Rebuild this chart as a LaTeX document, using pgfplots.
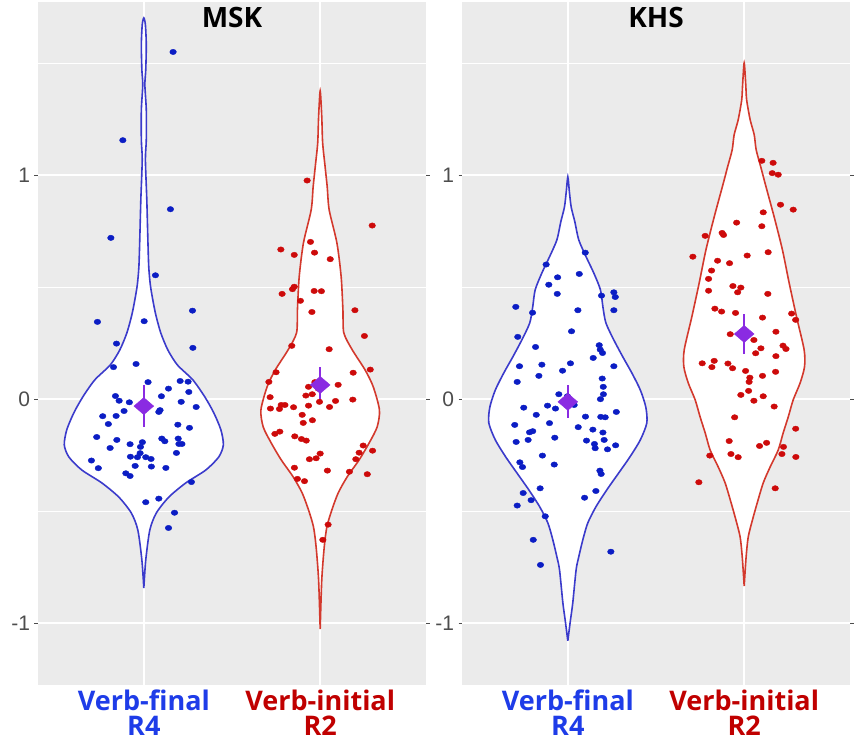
\documentclass[border=0pt]{standalone}
\usepackage{pgfplots}
\pgfplotsset{compat=1.18}
\usepackage{fontspec}
\setmainfont{Liberation Sans}
\newfontfamily\lf{Open Sans}
\definecolor{bg}{HTML}{EBEBEB}
\definecolor{dblue}{HTML}{0B1DC4}
\definecolor{vblue}{HTML}{3B3BCB}
\definecolor{dred}{HTML}{CD0A0A}
\definecolor{vred}{HTML}{D3392D}
\definecolor{lblue}{HTML}{1E3CE8}
\definecolor{lred}{HTML}{C00000}
\definecolor{purp}{HTML}{8A2BE2}
\definecolor{tickgray}{HTML}{4D4D4D}

\pgfplotstableread{
x y
0.845 0.247
1.278 0.228
0.828 0.142
0.956 0.156
1.024 0.075
1.206 0.080
1.251 0.077
1.140 0.046
1.255 0.031
0.839 0.013
0.860 -0.008
0.918 -0.015
1.100 0.012
1.212 -0.013
1.297 -0.036
0.888 -0.054
1.092 -0.050
1.085 -0.058
0.767 -0.077
0.843 -0.076
0.799 -0.112
1.193 -0.115
1.259 -0.129
0.733 -0.170
0.847 -0.183
0.922 -0.202
0.992 -0.193
1.102 -0.177
1.119 -0.189
1.195 -0.177
1.199 -0.201
1.216 -0.201
0.809 -0.219
0.981 -0.214
1.185 -0.241
0.979 -0.242
0.924 -0.258
0.964 -0.260
1.011 -0.260
1.041 -0.268
0.703 -0.275
0.742 -0.309
0.951 -0.299
1.043 -0.302
1.125 -0.308
0.898 -0.332
0.922 -0.344
1.270 -0.371
1.011 -0.461
1.085 -0.445
1.174 -0.508
1.140 -0.576
1.166 1.549
0.881 1.155
1.151 0.847
0.813 0.719
1.066 0.552
1.276 0.394
0.737 0.344
1.002 0.347
}\mskfinal

\pgfplotstableread{
x y
2.295 0.774
1.945 0.701
1.777 0.667
1.853 0.643
1.968 0.653
2.057 0.624
1.853 0.501
1.843 0.490
1.784 0.469
1.966 0.482
2.007 0.481
1.888 0.438
1.953 0.388
2.197 0.396
2.251 0.281
1.839 0.237
2.051 0.222
1.750 0.119
2.284 0.131
2.187 0.117
1.709 0.076
1.934 0.054
1.970 0.075
1.989 0.046
2.102 0.063
1.716 0.008
1.919 0.015
1.955 0.021
2.185 -0.003
1.996 -0.013
2.087 -0.009
1.779 -0.027
1.800 -0.027
1.718 -0.043
1.769 -0.045
1.849 -0.037
1.934 -0.030
2.053 -0.036
1.898 -0.071
1.904 -0.107
1.956 -0.095
1.743 -0.156
1.771 -0.146
1.856 -0.167
1.894 -0.179
1.921 -0.186
2.244 -0.208
2.221 -0.240
2.297 -0.231
2.000 -0.244
1.939 -0.269
1.977 -0.265
2.202 -0.269
1.854 -0.307
2.041 -0.320
2.166 -0.325
2.267 -0.336
1.871 -0.357
1.911 -0.367
2.045 -0.561
2.015 -0.629
1.926 0.975
}\mskinitial

\pgfplotstableread{
x y
1.099 0.653
0.877 0.600
0.942 0.543
1.065 0.558
0.892 0.510
0.940 0.469
1.191 0.461
1.261 0.476
1.269 0.455
0.705 0.411
0.800 0.385
1.057 0.396
1.261 0.396
1.021 0.302
0.716 0.277
0.817 0.232
1.178 0.240
1.184 0.220
1.197 0.205
1.144 0.183
0.726 0.146
0.853 0.153
1.015 0.159
0.970 0.126
1.261 0.146
0.836 0.103
0.713 0.076
1.195 0.091
1.201 0.054
1.202 0.021
0.949 0.021
0.998 0.012
1.185 -0.001
0.885 -0.030
0.930 -0.043
1.036 -0.027
0.750 -0.039
1.275 -0.058
0.821 -0.071
1.100 -0.079
1.187 -0.080
1.212 -0.082
0.699 -0.116
0.896 -0.108
1.059 -0.126
1.142 -0.137
0.783 -0.149
0.801 -0.144
1.199 -0.150
0.707 -0.192
0.775 -0.183
0.926 -0.173
1.106 -0.186
1.151 -0.201
1.155 -0.220
1.206 -0.183
1.225 -0.225
1.271 -0.207
0.856 -0.253
0.728 -0.283
0.743 -0.304
0.923 -0.293
1.182 -0.320
1.189 -0.335
0.843 -0.399
0.747 -0.420
0.792 -0.452
0.713 -0.476
1.095 -0.441
1.159 -0.411
0.872 -0.524
0.804 -0.629
1.244 -0.682
0.845 -0.741
}\khsfinal

\pgfplotstableread{
x y
2.100 1.063
2.164 1.054
2.159 1.008
2.193 1.001
2.206 0.867
2.278 0.845
2.108 0.833
1.957 0.787
2.100 0.771
1.779 0.728
1.875 0.741
1.883 0.732
1.709 0.635
2.017 0.640
2.136 0.655
1.849 0.617
1.917 0.606
1.815 0.573
1.798 0.536
1.798 0.483
1.936 0.504
1.981 0.497
1.963 0.476
2.134 0.469
1.834 0.403
1.872 0.390
1.951 0.384
2.104 0.363
2.269 0.381
2.292 0.353
2.180 0.300
1.921 0.289
2.055 0.263
2.095 0.226
2.065 0.204
2.220 0.238
2.237 0.223
2.180 0.191
1.762 0.159
1.830 0.170
1.817 0.142
1.908 0.158
1.934 0.137
2.008 0.125
2.178 0.121
2.032 0.095
2.028 0.076
2.104 0.103
1.981 0.018
2.025 0.036
2.055 -0.008
2.108 0.012
2.170 -0.034
1.946 -0.082
2.292 -0.133
1.915 -0.188
2.087 -0.210
2.127 -0.196
2.223 -0.214
2.214 -0.246
2.293 -0.259
1.805 -0.253
1.925 -0.246
1.966 -0.260
1.743 -0.372
2.176 -0.399
}\khsinitial

\pgfplotsset{
  vpanel/.style={
    scale only axis, width=388pt, height=683pt,
    xmin=0.4, xmax=2.6, ymin=-1.277, ymax=1.772,
    axis background/.style={fill=bg},
    axis line style={draw=none},
    xtick={1,2}, ytick={-1,0,1}, yticklabels={-1,0,1},
    minor ytick={-0.5,0.5,1.5},
    xmajorgrids, ymajorgrids, yminorgrids,
    major grid style={white, line width=1.4pt},
    minor grid style={white, line width=0.7pt},
    tick align=outside, major tick length=3.5pt, minor tick length=0pt,
    ytick style={color=tickgray, line width=0.8pt},
    xtick style={draw=none},
    yticklabel style={font=\fontsize{21}{21}\selectfont, text=tickgray, xshift=-1pt},
    xticklabels={{\textcolor{lblue}{Verb-final}\\\textcolor{lblue}{R4}},{\textcolor{lred}{Verb-initial}\\\textcolor{lred}{R2}}},
    xticklabel style={align=center, font=\lf\bfseries\fontsize{27}{24.5}\selectfont, yshift=2pt},
    title style={at={(0.5,1)}, anchor=north, yshift=-8pt, font=\lf\bfseries\fontsize{28}{28}\selectfont},
    clip=false,
  },
  pts/.style={only marks, mark=*, mark size=2.7pt, mark options={xscale=1.22, draw=none}},
  vio/.style={smooth, tension=0.45, fill=white, line width=1.6pt, mark=none},
  mn/.style={draw=none, mark=diamond*, mark size=8.5pt, purp, mark options={xscale=1.55, fill=purp, draw=purp},
    error bars/.cd, y dir=both, y explicit, error mark=none, error bar style={line width=2pt, purp}},
}

\begin{document}
\begin{tikzpicture}
\useasboundingbox (0,0) rectangle (855pt,741pt);
\begin{axis}[vpanel, at={(38pt,56pt)}, anchor=south west, title={MSK}]
\addplot[vio, draw=vblue] coordinates {
(1,-0.844) (1.011,-0.719) (1.034,-0.585) (1.071,-0.509) (1.142,-0.438) (1.238,-0.375) (1.352,-0.317) (1.425,-0.259) (1.451,-0.205) (1.437,-0.138) (1.397,-0.0625) (1.346,0.009) (1.278,0.085) (1.190,0.152) (1.136,0.219) (1.096,0.295) (1.068,0.375) (1.051,0.442) (1.037,0.509) (1.028,0.589) (1.023,0.710) (1.017,0.888) (1.009,1.067) (1.014,1.156) (1.014,1.290) (1.006,1.402) (1.011,1.469) (1.014,1.580) (1.009,1.670) (1,1.701)
(0.991,1.670) (0.986,1.580) (0.989,1.469) (0.994,1.402) (0.986,1.290) (0.986,1.156) (0.991,1.067) (0.983,0.888) (0.977,0.710) (0.972,0.589) (0.963,0.509) (0.949,0.442) (0.932,0.375) (0.904,0.295) (0.864,0.219) (0.810,0.152) (0.722,0.085) (0.654,0.009) (0.603,-0.0625) (0.563,-0.138) (0.549,-0.205) (0.575,-0.259) (0.648,-0.317) (0.762,-0.375) (0.858,-0.438) (0.929,-0.509) (0.966,-0.585) (0.989,-0.719) (1,-0.844)};
\addplot[vio, draw=vred] coordinates {
(2,-1.027) (2.009,-0.808) (2.023,-0.661) (2.038,-0.571) (2.066,-0.496) (2.102,-0.420) (2.153,-0.348) (2.221,-0.272) (2.278,-0.196) (2.323,-0.125) (2.336,-0.049) (2.301,0.054) (2.255,0.129) (2.182,0.219) (2.134,0.295) (2.129,0.397) (2.119,0.545) (2.095,0.696) (2.051,0.844) (2.040,0.946) (2.028,1.036) (2.014,1.143) (2.009,1.259) (2,1.375)
(1.991,1.259) (1.986,1.143) (1.972,1.036) (1.960,0.946) (1.949,0.844) (1.905,0.696) (1.881,0.545) (1.871,0.397) (1.866,0.295) (1.818,0.219) (1.745,0.129) (1.699,0.054) (1.664,-0.049) (1.677,-0.125) (1.722,-0.196) (1.779,-0.272) (1.847,-0.348) (1.898,-0.420) (1.934,-0.496) (1.962,-0.571) (1.977,-0.661) (1.991,-0.808) (2,-1.027)};
\addplot[pts, dblue] table {\mskfinal};
\addplot[pts, dred] table {\mskinitial};
\addplot[mn] coordinates {(1,-0.032) +- (0,0.094)};
\addplot[mn] coordinates {(2,0.0625) +- (0,0.08)};
\end{axis}

\begin{axis}[vpanel, at={(462pt,56pt)}, anchor=south west, title={KHS}]
\addplot[vio, draw=vblue] coordinates {
(1,-1.080) (1.015,-0.987) (1.028,-0.911) (1.047,-0.763) (1.062,-0.705) (1.085,-0.629) (1.113,-0.554) (1.159,-0.482) (1.221,-0.406) (1.289,-0.330) (1.352,-0.259) (1.411,-0.183) (1.448,-0.107) (1.442,-0.036) (1.411,0.040) (1.363,0.116) (1.312,0.1875) (1.261,0.263) (1.216,0.339) (1.199,0.411) (1.185,0.487) (1.147,0.5625) (1.104,0.634) (1.062,0.710) (1.040,0.790) (1.019,0.857) (1.009,0.924) (1,0.991)
(0.991,0.924) (0.981,0.857) (0.960,0.790) (0.938,0.710) (0.896,0.634) (0.853,0.5625) (0.815,0.487) (0.801,0.411) (0.784,0.339) (0.739,0.263) (0.688,0.1875) (0.637,0.116) (0.589,0.040) (0.558,-0.036) (0.552,-0.107) (0.589,-0.183) (0.648,-0.259) (0.711,-0.330) (0.779,-0.406) (0.841,-0.482) (0.887,-0.554) (0.915,-0.629) (0.938,-0.705) (0.953,-0.763) (0.972,-0.911) (0.985,-0.987) (1,-1.080)};
\addplot[vio, draw=vred] coordinates {
(2,-0.835) (2.011,-0.705) (2.023,-0.616) (2.047,-0.540) (2.074,-0.464) (2.108,-0.375) (2.147,-0.304) (2.193,-0.228) (2.221,-0.152) (2.250,-0.080) (2.278,-0.004) (2.317,0.071) (2.342,0.143) (2.340,0.219) (2.297,0.366) (2.255,0.518) (2.217,0.665) (2.170,0.8125) (2.118,0.964) (2.094,1.036) (2.068,1.112) (2.057,1.179) (2.034,1.246) (2.014,1.335) (2.009,1.402) (2,1.500)
(1.991,1.402) (1.986,1.335) (1.966,1.246) (1.943,1.179) (1.932,1.112) (1.906,1.036) (1.882,0.964) (1.830,0.8125) (1.783,0.665) (1.745,0.518) (1.703,0.366) (1.660,0.219) (1.658,0.143) (1.683,0.071) (1.722,-0.004) (1.750,-0.080) (1.779,-0.152) (1.807,-0.228) (1.853,-0.304) (1.892,-0.375) (1.926,-0.464) (1.953,-0.540) (1.977,-0.616) (1.989,-0.705) (2,-0.835)};
\addplot[pts, dblue] table {\khsfinal};
\addplot[pts, dred] table {\khsinitial};
\addplot[mn] coordinates {(1,-0.013) +- (0,0.073)};
\addplot[mn] coordinates {(2,0.29) +- (0,0.088)};
\end{axis}
\end{tikzpicture}
\end{document}
